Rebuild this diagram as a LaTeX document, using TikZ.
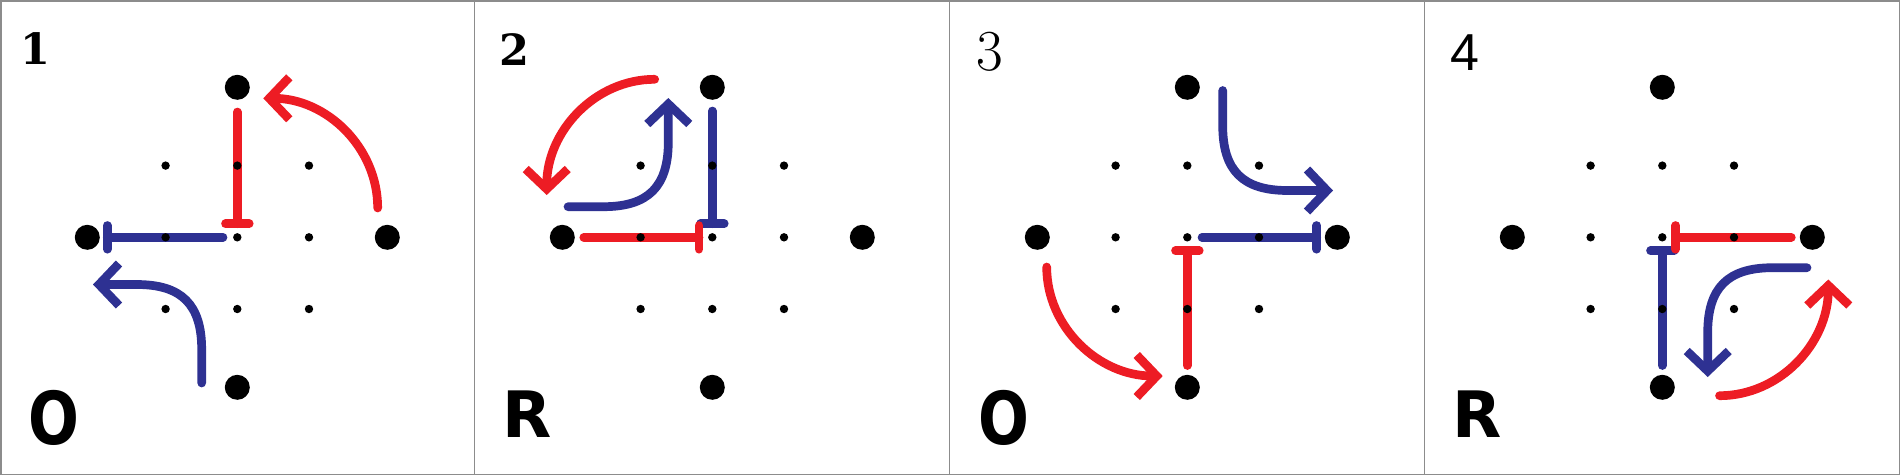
\documentclass[tikz,border=0pt]{standalone}
\usepackage{fontspec}
\newfontfamily\digsans{Liberation Sans}
\newfontfamily\digserif{DejaVu Serif}
\newfontfamily\comic{DejaVu Sans}
\usetikzlibrary{arrows.meta}
\definecolor{rd}{HTML}{ED1C24}
\definecolor{bl}{HTML}{2E3192}
\definecolor{framegray}{HTML}{8C8C8C}
\tikzset{
  thk/.style={line width=8.7pt, line cap=round},
  arr/.style={thk, -{Straight Barb[length=20pt,width=42pt,sharp]}},
  bigdot/.style={circle, fill=black, inner sep=0pt, minimum size=25pt},
  smalldot/.style={circle, fill=black, inner sep=0pt, minimum size=8.4pt},
  lbl/.style={inner sep=0pt, text=black},
}
\newcommand\dotgrid[1]{%
  \foreach \i/\x in {a/165.6,b/237.3,c/309}{%
    \foreach \j/\y in {a/165.6,b/237.3,c/309}{%
      \node[smalldot] (#1s\i\j) at (\x,\y) {};}}%
  \node[bigdot] (#1N) at (237.3,87.3) {};
  \node[bigdot] (#1W) at (87.3,237.3) {};
  \node[bigdot] (#1E) at (387.3,237.3) {};
  \node[bigdot] (#1S) at (237.3,387.3) {};
}
\begin{document}
\begin{tikzpicture}[x=1pt, y=-1pt]
\useasboundingbox (0,0) rectangle (1900,475);
\fill[white] (0,0) rectangle (1900,475);

% ---------- panel 1 ----------
\begin{scope}
  \draw[bl, thk] (223,237.3) -- (107.3,237.3);
  \draw[bl, thk] (107.3,225.5) -- (107.3,249.2);
  \draw[bl, arr] (201.7,383) -- (201.7,349.5) .. controls (201.7,304.5) and (181.7,284.5) .. (136.7,284.5) -- (93,284.5);
  \draw[rd, thk] (237.3,112) -- (237.3,223.7);
  \draw[rd, thk] (225.5,223.7) -- (249.2,223.7);
  \draw[rd, arr] (377.7,208) .. controls (377.7,147.4) and (326.5,98.3) .. (263.3,98.3);
  \dotgrid{a}
  \node[lbl, font=\digserif\bfseries\fontsize{43}{43}\selectfont] (l1) at (35.8,49) {1};
  \node[lbl, font=\comic\bfseries\fontsize{73}{73}\selectfont] (o1) at (54.2,417.5) {\scalebox{0.82}[1]{O}};
\end{scope}

% ---------- panel 2 ----------
\begin{scope}[shift={(475,0)}]
  \draw[bl, thk] (237.3,111) -- (237.3,223.7);
  \draw[bl, thk] (225.5,223.7) -- (249.2,223.7);
  \draw[bl, arr] (93,206.7) -- (128.3,206.7) .. controls (173.3,206.7) and (193.3,186.7) .. (193.3,141.7) -- (193.3,98);
  \draw[rd, thk] (108.8,237.3) -- (224,237.3);
  \draw[rd, thk] (224,225.5) -- (224,249.2);
  \draw[rd, arr] (179.7,79.3) .. controls (120.1,79.3) and (71.7,131.1) .. (71.7,195);
  \dotgrid{b}
  \node[lbl, font=\digserif\bfseries\fontsize{43}{43}\selectfont] (l2) at (39.2,49.5) {2};
  \node[lbl, font=\comic\bfseries\fontsize{64}{64}\selectfont] (r2) at (52.5,414) {R};
\end{scope}

% ---------- panel 3 ----------
\begin{scope}[shift={(950,0)}]
  \draw[bl, thk] (252,237.3) -- (366.7,237.3);
  \draw[bl, thk] (366.7,225.5) -- (366.7,249.2);
  \draw[bl, arr] (272.7,90.5) -- (272.7,125.5) .. controls (272.7,170.5) and (292.7,190.5) .. (337.7,190.5) -- (383,190.5);
  \draw[rd, thk] (237.3,365.5) -- (237.3,250.7);
  \draw[rd, thk] (225.5,250.7) -- (249.2,250.7);
  \draw[rd, arr] (96.7,267) .. controls (96.7,327.2) and (148.7,376) .. (212.7,376);
  \dotgrid{c}
  \node[lbl, font=\fontsize{58}{58}\selectfont] (l3) at (39.5,52) {3};
  \node[lbl, font=\comic\bfseries\fontsize{73}{73}\selectfont] (o3) at (54.2,417.5) {\scalebox{0.82}[1]{O}};
\end{scope}

% ---------- panel 4 ----------
\begin{scope}[shift={(1425,0)}]
  \draw[bl, thk] (237.3,365.5) -- (237.3,250.7);
  \draw[bl, thk] (225.5,250.7) -- (249.2,250.7);
  \draw[bl, arr] (382,267.7) -- (347.7,267.7) .. controls (302.7,267.7) and (282.7,287.7) .. (282.7,332.7) -- (282.7,377);
  \draw[rd, thk] (366.3,237.3) -- (250.7,237.3);
  \draw[rd, thk] (250.7,225.5) -- (250.7,249.2);
  \draw[rd, arr] (294.5,395.7) .. controls (354.6,395.7) and (403.3,343.6) .. (403.3,279.5);
  \dotgrid{d}
  \node[lbl, font=\digsans\fontsize{52}{52}\selectfont] (l4) at (39.5,52.5) {4};
  \node[lbl, font=\comic\bfseries\fontsize{64}{64}\selectfont] (r4) at (52.5,414) {R};
\end{scope}

% ---------- frames ----------
\draw[framegray, line width=1.5pt] (0.75,0.75) rectangle (1899.25,474.25);
\foreach \xx in {474.5,949.5,1424.5}
  \draw[framegray, line width=1.5pt] (\xx,0) -- (\xx,475);
\end{tikzpicture}
\end{document}
